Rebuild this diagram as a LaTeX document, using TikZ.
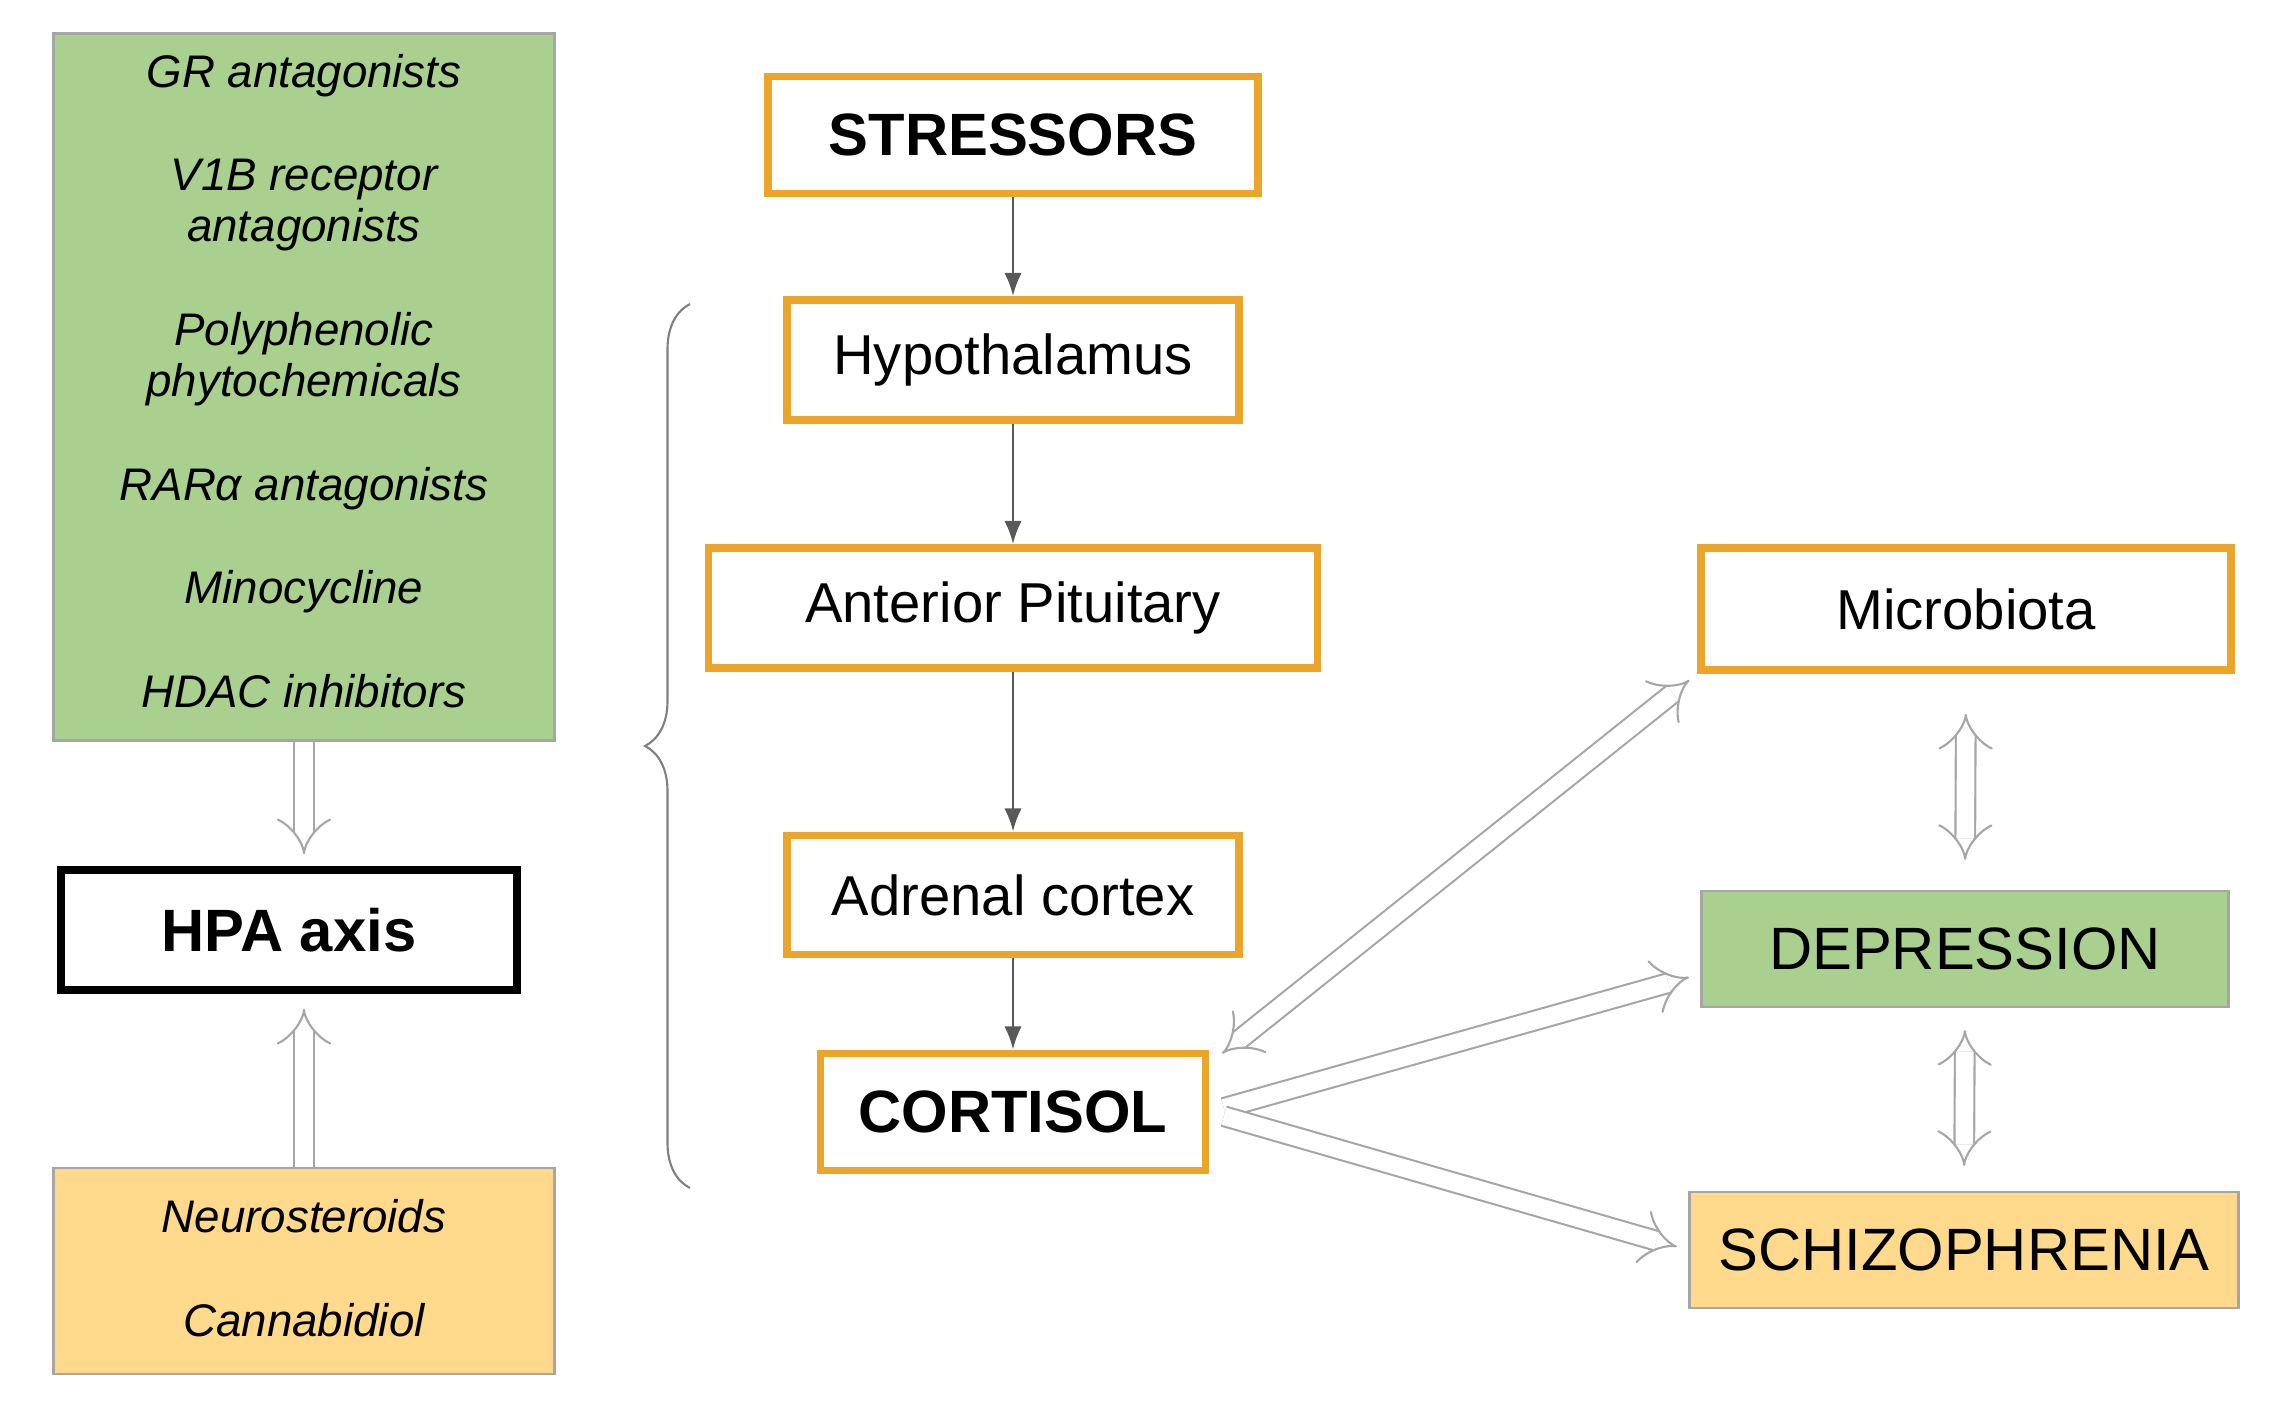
\documentclass[tikz,border=0pt]{standalone}
\usepackage{fontspec}
\setmainfont{Liberation Sans}
\usetikzlibrary{arrows.meta, positioning, decorations.pathreplacing}
\definecolor{boxgreen}{RGB}{169,208,142}
\definecolor{boxyellow}{RGB}{255,217,140}
\definecolor{frameorange}{RGB}{237,164,43}

\begin{document}
\begin{tikzpicture}[>=Latex]
    \tikzset{stage/.style={rectangle, draw=frameorange, line width=2.2pt, fill=white, inner sep=0pt, font=\fontsize{16}{19}\selectfont}}
    \tikzset{side/.style={rectangle, draw=gray!70, line width=0.6pt, inner sep=0pt}}
    \tikzset{hollow/.style={draw=gray!70, line width=0.6pt, double=white, double distance=5pt, -Implies}}
    \tikzset{link/.style={->, draw=black!65, line width=0.8pt}}
    \useasboundingbox (0,0) rectangle (22.72,-14.12);

    % Drug classes and HPA axis
    \node[side, fill=boxgreen, minimum width=5.01cm, minimum height=7.07cm] (drugs) at (3.04,-3.87) {};
    \node[align=center, font=\fontsize{13}{14.5}\selectfont\itshape] (drugtext) at (3.04,-3.81)
        {GR antagonists\\[15pt] V1B receptor\\antagonists\\[15pt] Polyphenolic\\phytochemicals\\[15pt]
         RARα antagonists\\[15pt] Minocycline\\[15pt] HDAC inhibitors};
    \node[rectangle, draw=black, line width=2.2pt, minimum width=4.56cm, minimum height=1.2cm, font=\fontsize{17}{20}\selectfont\bfseries] (hpa) at (2.89,-9.30) {HPA axis};
    \node[side, fill=boxyellow, minimum width=5.01cm, minimum height=2.06cm] (other) at (3.04,-12.71) {};
    \node[align=center, font=\fontsize{13}{14.5}\selectfont\itshape] (othertext) at (3.04,-12.68)
        {Neurosteroids\\[15pt] Cannabidiol};

    \draw[hollow, shorten >=0.12cm] (drugs.south) -- (drugs.south |- hpa.north);
    \draw[hollow, shorten >=0.15cm] (other.north) -- (other.north |- hpa.south);

    \draw[gray, line width=0.6pt, decorate, decoration={brace, amplitude=0.45cm}] (6.9,-11.88) -- (6.9,-3.04);

    % Cascade
    \node[stage, minimum width=4.9cm, minimum height=1.17cm, font=\fontsize{17}{20}\selectfont\bfseries] (stress) at (10.13,-1.35) {STRESSORS};
    \node[stage, minimum width=4.52cm, minimum height=1.2cm] (hypo) at (10.13,-3.60) {Hypothalamus};
    \node[stage, minimum width=6.09cm, minimum height=1.2cm] (pit) at (10.13,-6.08) {Anterior Pituitary};
    \node[stage, minimum width=4.52cm, minimum height=1.19cm] (adrenal) at (10.13,-8.95) {Adrenal cortex};
    \node[stage, minimum width=3.85cm, minimum height=1.17cm, font=\fontsize{17}{20}\selectfont\bfseries] (cort) at (10.13,-11.12) {CORTISOL};

    \draw[link] (stress) -- (hypo);
    \draw[link] (hypo) -- (pit);
    \draw[link] (pit) -- (adrenal);
    \draw[link] (adrenal) -- (cort);

    % Outcomes
    \node[stage, minimum width=5.3cm, minimum height=1.22cm] (micro) at (19.66,-6.09) {Microbiota};
    \node[side, fill=boxgreen, minimum width=5.27cm, minimum height=1.16cm, font=\fontsize{17}{20}\selectfont] (dep) at (19.65,-9.49) {DEPRESSION};
    \node[side, fill=boxyellow, minimum width=5.49cm, minimum height=1.16cm, font=\fontsize{17}{20}\selectfont] (schizo) at (19.64,-12.50) {SCHIZOPHRENIA};

    \draw[hollow, Implies-Implies, shorten <=0.1cm, shorten >=0.1cm] ([xshift=0.05cm,yshift=-0.1cm]cort.north east) -- (micro.south west);
    \draw[hollow, shorten <=0.15cm, shorten >=0.12cm] (cort.east) -- ([yshift=-0.25cm]dep.west);
    \draw[hollow, shorten <=0.15cm, shorten >=0.12cm] (cort.east) -- (schizo.west);
    \draw[hollow, Implies-Implies, shorten <=0.4cm, shorten >=0.3cm] (micro.south) -- (dep.north);
    \draw[hollow, Implies-Implies, shorten <=0.22cm, shorten >=0.25cm] (dep.south) -- (schizo.north);
\end{tikzpicture}
\end{document}
